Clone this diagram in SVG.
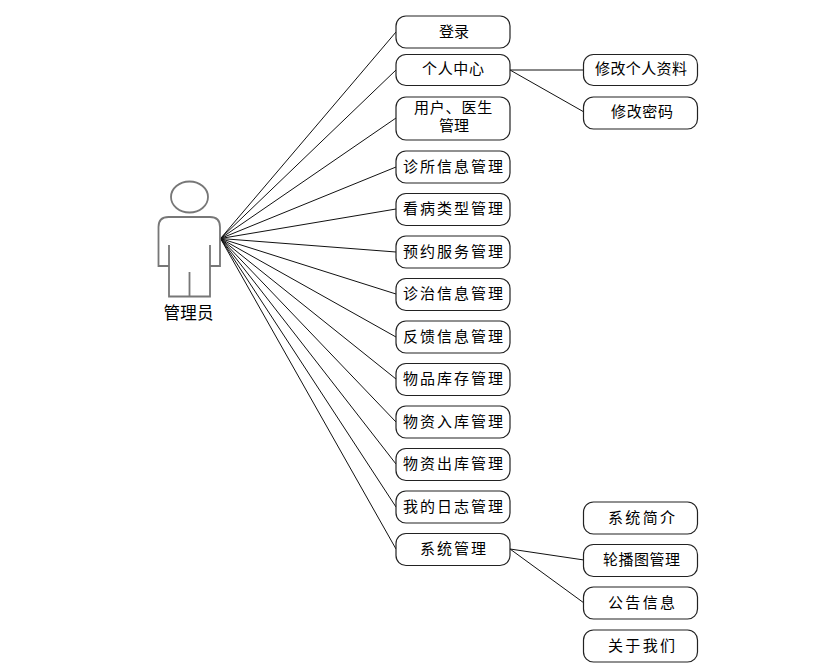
<svg xmlns="http://www.w3.org/2000/svg" width="840" height="669" viewBox="0 0 840 669">
<style>
.b{fill:#fff;stroke:#222;stroke-width:1.2}
.l{stroke:#111;stroke-width:1;fill:none}
.a{fill:#fff;stroke:#777;stroke-width:1.8}
text{font-family:"Noto Sans CJK SC","Noto Sans",sans-serif;font-size:15px;fill:#000;text-anchor:start}
</style>
<rect width="840" height="669" fill="#fff"/>
<g id="connectors">
<path class="l" d="M220.500 238.500L396 32M220.500 238.500L396 70M220.500 238.500L396 118M220.500 238.500L396 167M220.500 238.500L396 209M220.500 238.500L396 252M220.500 238.500L396 294M220.500 238.500L396 337M220.500 238.500L396 379M220.500 238.500L396 422M220.500 238.500L396 464M220.500 238.500L396 507M220.500 238.500L396 549"/>
<path class="l" d="M510 70H584M510 70L584 112M510 549L584 560M510 549L584 603"/>
</g>
<g id="actor">
<ellipse class="a" cx="189.500" cy="197" rx="18.500" ry="15.500"/>
<path class="a" d="M169 266H158.500V227Q158.500 217 168.500 217H210Q220 217 220 227V266H210V245M169 245V296.500H210V266M189.500 272V296.500"/>
<text x="163.500" y="319" style="font-size:16.500px" textLength="50">管理员</text>
</g>
<g id="n1"><rect class="b" x="396" y="16" width="114" height="32" rx="10"/><text x="439" y="37" textLength="30">登录</text></g>
<g id="n2"><rect class="b" x="396" y="54.500" width="114" height="31" rx="10"/><text x="422" y="74" textLength="62">个人中心</text></g>
<g id="n3"><rect class="b" x="396" y="97" width="114" height="43" rx="10"/><text><tspan x="414" y="113" letter-spacing="0.800">用户、医生</tspan><tspan x="439" y="131">管理</tspan></text></g>
<g id="n4"><rect class="b" x="396" y="151" width="114" height="32" rx="10"/><text x="403" y="172" textLength="100">诊所信息管理</text></g>
<g id="n5"><rect class="b" x="396" y="193.500" width="114" height="32" rx="10"/><text x="403" y="214" textLength="100">看病类型管理</text></g>
<g id="n6"><rect class="b" x="396" y="236" width="114" height="32" rx="10"/><text x="403" y="257" textLength="100">预约服务管理</text></g>
<g id="n7"><rect class="b" x="396" y="278.500" width="114" height="32" rx="10"/><text x="403" y="299" textLength="100">诊治信息管理</text></g>
<g id="n8"><rect class="b" x="396" y="321" width="114" height="32" rx="10"/><text x="403" y="342" textLength="100">反馈信息管理</text></g>
<g id="n9"><rect class="b" x="396" y="363.500" width="114" height="32" rx="10"/><text x="403" y="384" textLength="100">物品库存管理</text></g>
<g id="n10"><rect class="b" x="396" y="406" width="114" height="32" rx="10"/><text x="403" y="427" textLength="100">物资入库管理</text></g>
<g id="n11"><rect class="b" x="396" y="448.500" width="114" height="32" rx="10"/><text x="403" y="469" textLength="100">物资出库管理</text></g>
<g id="n12"><rect class="b" x="396" y="491" width="114" height="32" rx="10"/><text x="403" y="512" textLength="100">我的日志管理</text></g>
<g id="n13"><rect class="b" x="396" y="533.500" width="114" height="32" rx="10"/><text x="420" y="554" textLength="66">系统管理</text></g>
<g id="r1"><rect class="b" x="583.500" y="54.500" width="114" height="31" rx="10"/><text x="595" y="74" textLength="92">修改个人资料</text></g>
<g id="r2"><rect class="b" x="583.500" y="97" width="114" height="32" rx="10"/><text x="611" y="117" textLength="62">修改密码</text></g>
<g id="r3"><rect class="b" x="583.500" y="502" width="114" height="32" rx="10"/><text x="608" y="523" textLength="67">系统简介</text></g>
<g id="r4"><rect class="b" x="583.500" y="544.500" width="114" height="32" rx="10"/><text x="603" y="565" textLength="77">轮播图管理</text></g>
<g id="r5"><rect class="b" x="583.500" y="587" width="114" height="32" rx="10"/><text x="608" y="608" textLength="67">公告信息</text></g>
<g id="r6"><rect class="b" x="583.500" y="630" width="114" height="32" rx="10"/><text x="608" y="651" textLength="67">关于我们</text></g>
</svg>
